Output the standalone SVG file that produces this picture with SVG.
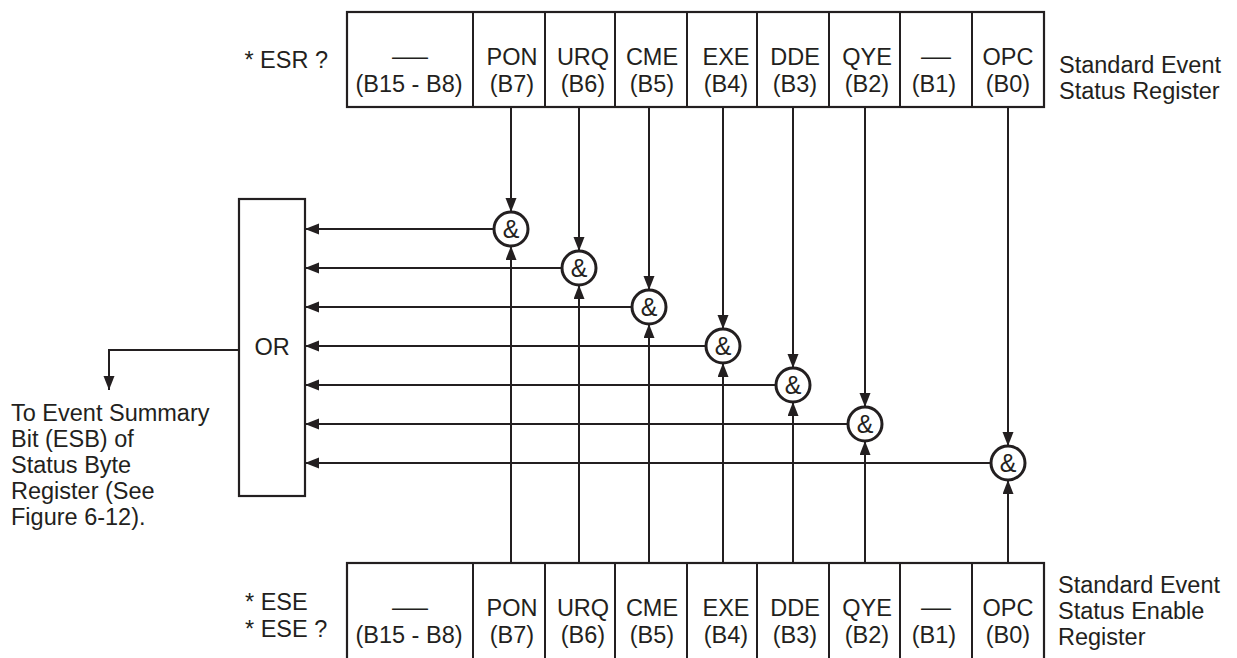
<svg xmlns="http://www.w3.org/2000/svg" width="1237" height="658" viewBox="0 0 1237 658">
<style>
text{font-family:"Liberation Sans",Arial,Helvetica,sans-serif;font-size:23.5px;fill:#231f20}
.c{text-anchor:middle}
.box{fill:none;stroke:#231f20;stroke-width:2.2}
.ln{fill:none;stroke:#231f20;stroke-width:2}
.g{fill:#fff;stroke:#231f20;stroke-width:3}
.amp{font-size:25px;text-anchor:middle}
</style>
<defs>
<marker id="ah" markerUnits="userSpaceOnUse" markerWidth="15" markerHeight="12" refX="14" refY="5.5" orient="auto">
<path d="M0,0 L14,5.5 L0,11 z" fill="#231f20"/>
</marker>
</defs>
<rect width="1237" height="658" fill="#fff"/>

<g id="connectors">
<path class="ln" marker-end="url(#ah)" d="M511,107 V212"/>
<path class="ln" marker-end="url(#ah)" d="M579,107 V251"/>
<path class="ln" marker-end="url(#ah)" d="M649,107 V290"/>
<path class="ln" marker-end="url(#ah)" d="M723,107 V329"/>
<path class="ln" marker-end="url(#ah)" d="M793,107 V368"/>
<path class="ln" marker-end="url(#ah)" d="M865,107 V407"/>
<path class="ln" marker-end="url(#ah)" d="M1008,107 V446"/>
<path class="ln" marker-end="url(#ah)" d="M511,563 V246"/>
<path class="ln" marker-end="url(#ah)" d="M579,563 V285"/>
<path class="ln" marker-end="url(#ah)" d="M649,563 V324"/>
<path class="ln" marker-end="url(#ah)" d="M723,563 V363"/>
<path class="ln" marker-end="url(#ah)" d="M793,563 V402"/>
<path class="ln" marker-end="url(#ah)" d="M865,563 V441"/>
<path class="ln" marker-end="url(#ah)" d="M1008,563 V480"/>
<path class="ln" marker-end="url(#ah)" d="M494,229 H305"/>
<path class="ln" marker-end="url(#ah)" d="M562,268 H305"/>
<path class="ln" marker-end="url(#ah)" d="M632,307 H305"/>
<path class="ln" marker-end="url(#ah)" d="M706,346 H305"/>
<path class="ln" marker-end="url(#ah)" d="M776,385 H305"/>
<path class="ln" marker-end="url(#ah)" d="M848,424 H305"/>
<path class="ln" marker-end="url(#ah)" d="M991,463 H305"/>
<path class="ln" marker-end="url(#ah)" d="M239,350 H109 V390"/>
</g>

<g id="reg-esr">
<rect class="box" x="347" y="12" width="697" height="95"/>
<path class="ln" d="M473,12V107M545,12V107M615,12V107M687,12V107M757,12V107M829,12V107M900,12V107M972,12V107"/>
<text x="328" y="68" text-anchor="end">* ESR ?</text>
<text class="c" x="410" y="64" textLength="36" lengthAdjust="spacingAndGlyphs">—</text>
<text class="c" x="409" y="92">(B15 - B8)</text>
<text class="c" x="512" y="65">PON</text><text class="c" x="512" y="92">(B7)</text>
<text class="c" x="583" y="65">URQ</text><text class="c" x="583" y="92">(B6)</text>
<text class="c" x="652" y="65">CME</text><text class="c" x="652" y="92">(B5)</text>
<text class="c" x="726" y="65">EXE</text><text class="c" x="726" y="92">(B4)</text>
<text class="c" x="795" y="65">DDE</text><text class="c" x="795" y="92">(B3)</text>
<text class="c" x="867" y="65">QYE</text><text class="c" x="867" y="92">(B2)</text>
<text class="c" x="936" y="64" textLength="30" lengthAdjust="spacingAndGlyphs">—</text>
<text class="c" x="934" y="92">(B1)</text>
<text class="c" x="1008" y="65">OPC</text><text class="c" x="1008" y="92">(B0)</text>
<text x="1059" y="73">Standard Event</text>
<text x="1059" y="99">Status Register</text>
</g>

<g id="reg-ese">
<rect class="box" x="347" y="563" width="697" height="110"/>
<path class="ln" d="M473,563V658M545,563V658M615,563V658M687,563V658M757,563V658M829,563V658M900,563V658M972,563V658"/>
<text x="245" y="610">* ESE</text>
<text x="245" y="637">* ESE ?</text>
<text class="c" x="410" y="615" textLength="36" lengthAdjust="spacingAndGlyphs">—</text>
<text class="c" x="409" y="643">(B15 - B8)</text>
<text class="c" x="512" y="616">PON</text><text class="c" x="512" y="643">(B7)</text>
<text class="c" x="583" y="616">URQ</text><text class="c" x="583" y="643">(B6)</text>
<text class="c" x="652" y="616">CME</text><text class="c" x="652" y="643">(B5)</text>
<text class="c" x="726" y="616">EXE</text><text class="c" x="726" y="643">(B4)</text>
<text class="c" x="795" y="616">DDE</text><text class="c" x="795" y="643">(B3)</text>
<text class="c" x="867" y="616">QYE</text><text class="c" x="867" y="643">(B2)</text>
<text class="c" x="936" y="615" textLength="30" lengthAdjust="spacingAndGlyphs">—</text>
<text class="c" x="934" y="643">(B1)</text>
<text class="c" x="1008" y="616">OPC</text><text class="c" x="1008" y="643">(B0)</text>
<text x="1058" y="593">Standard Event</text>
<text x="1058" y="619">Status Enable</text>
<text x="1058" y="645">Register</text>
</g>

<g id="or-gate">
<rect class="box" x="239" y="199" width="66" height="297"/>
<text class="c" x="272" y="355">OR</text>
</g>

<g id="gate-b7"><circle class="g" cx="511" cy="229" r="17"/><text class="amp" x="511" y="238">&amp;</text></g>
<g id="gate-b6"><circle class="g" cx="579" cy="268" r="17"/><text class="amp" x="579" y="277">&amp;</text></g>
<g id="gate-b5"><circle class="g" cx="649" cy="307" r="17"/><text class="amp" x="649" y="316">&amp;</text></g>
<g id="gate-b4"><circle class="g" cx="723" cy="346" r="17"/><text class="amp" x="723" y="355">&amp;</text></g>
<g id="gate-b3"><circle class="g" cx="793" cy="385" r="17"/><text class="amp" x="793" y="394">&amp;</text></g>
<g id="gate-b2"><circle class="g" cx="865" cy="424" r="17"/><text class="amp" x="865" y="433">&amp;</text></g>
<g id="gate-b0"><circle class="g" cx="1008" cy="463" r="17"/><text class="amp" x="1008" y="472">&amp;</text></g>

<g id="esb-label">
<text x="11" y="421">To Event Summary</text>
<text x="11" y="447">Bit (ESB) of</text>
<text x="11" y="473">Status Byte</text>
<text x="11" y="499">Register (See</text>
<text x="11" y="525">Figure 6-12).</text>
</g>
</svg>
